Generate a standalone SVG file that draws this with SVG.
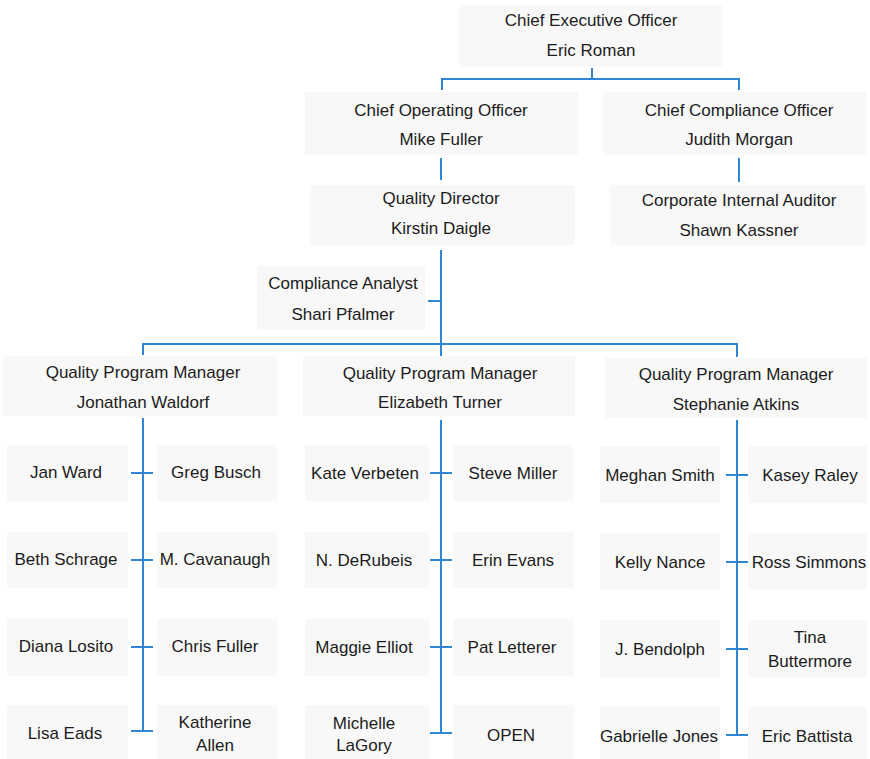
<svg xmlns="http://www.w3.org/2000/svg" width="870" height="759" viewBox="0 0 870 759">
  <style>
    .box { fill: #f8f8f8; }
    .t { font-family: "Liberation Sans", Arial, sans-serif; font-size: 17px; fill: #1c1c1c; text-anchor: middle; }
    .ln { stroke: #2f86d3; stroke-width: 2; fill: none; stroke-linecap: butt; }
  </style>
  <rect width="870" height="759" fill="#ffffff"/>

  <!-- executive level -->
  <g id="ceo"><rect class="box" x="458" y="5" width="264" height="62"/>
    <text class="t" x="591" y="26">Chief Executive Officer</text><text class="t" x="591" y="56">Eric Roman</text></g>
  <g id="coo"><rect class="box" x="305" y="92" width="273" height="63"/>
    <text class="t" x="441" y="116">Chief Operating Officer</text><text class="t" x="441" y="145">Mike Fuller</text></g>
  <g id="cco"><rect class="box" x="603" y="92" width="263" height="63"/>
    <text class="t" x="739" y="116">Chief Compliance Officer</text><text class="t" x="739" y="145">Judith Morgan</text></g>
  <g id="quality-director"><rect class="box" x="310" y="185" width="265" height="60"/>
    <text class="t" x="441" y="204">Quality Director</text><text class="t" x="441" y="234">Kirstin Daigle</text></g>
  <g id="internal-auditor"><rect class="box" x="610" y="185" width="256" height="60"/>
    <text class="t" x="739" y="206">Corporate Internal Auditor</text><text class="t" x="739" y="236">Shawn Kassner</text></g>
  <g id="compliance-analyst"><rect class="box" x="257" y="266" width="168" height="64"/>
    <text class="t" x="343" y="289">Compliance Analyst</text><text class="t" x="343" y="320">Shari Pfalmer</text></g>

  <!-- program managers -->
  <g id="qpm-waldorf"><rect class="box" x="3" y="356" width="274" height="60"/>
    <text class="t" x="143" y="378">Quality Program Manager</text><text class="t" x="143" y="408">Jonathan Waldorf</text></g>
  <g id="qpm-turner"><rect class="box" x="303" y="356" width="272" height="60"/>
    <text class="t" x="440" y="379">Quality Program Manager</text><text class="t" x="440" y="408">Elizabeth Turner</text></g>
  <g id="qpm-atkins"><rect class="box" x="605" y="358" width="262" height="60"/>
    <text class="t" x="736" y="380">Quality Program Manager</text><text class="t" x="736" y="410">Stephanie Atkins</text></g>

  <!-- staff under Waldorf -->
  <g id="jan-ward"><rect class="box" x="7" y="445" width="121" height="56"/><text class="t" x="66" y="478">Jan Ward</text></g>
  <g id="greg-busch"><rect class="box" x="157" y="445" width="120" height="56"/><text class="t" x="216" y="478">Greg Busch</text></g>
  <g id="beth-schrage"><rect class="box" x="7" y="532" width="121" height="56"/><text class="t" x="66" y="565">Beth Schrage</text></g>
  <g id="m-cavanaugh"><rect class="box" x="157" y="532" width="120" height="56"/><text class="t" x="215" y="565">M. Cavanaugh</text></g>
  <g id="diana-losito"><rect class="box" x="7" y="619" width="121" height="57"/><text class="t" x="66" y="652">Diana Losito</text></g>
  <g id="chris-fuller"><rect class="box" x="157" y="619" width="120" height="57"/><text class="t" x="215" y="652">Chris Fuller</text></g>
  <g id="lisa-eads"><rect class="box" x="7" y="705" width="121" height="54"/><text class="t" x="65" y="739">Lisa Eads</text></g>
  <g id="katherine-allen"><rect class="box" x="157" y="705" width="120" height="54"/>
    <text class="t" x="215" y="728">Katherine</text><text class="t" x="215" y="751">Allen</text></g>

  <!-- staff under Turner -->
  <g id="kate-verbeten"><rect class="box" x="305" y="445" width="124" height="56"/><text class="t" x="365" y="479">Kate Verbeten</text></g>
  <g id="steve-miller"><rect class="box" x="453" y="445" width="121" height="56"/><text class="t" x="513" y="479">Steve Miller</text></g>
  <g id="n-derubeis"><rect class="box" x="305" y="532" width="124" height="56"/><text class="t" x="364" y="566">N. DeRubeis</text></g>
  <g id="erin-evans"><rect class="box" x="453" y="532" width="121" height="56"/><text class="t" x="513" y="566">Erin Evans</text></g>
  <g id="maggie-elliot"><rect class="box" x="305" y="619" width="124" height="57"/><text class="t" x="364" y="653">Maggie Elliot</text></g>
  <g id="pat-letterer"><rect class="box" x="453" y="619" width="121" height="57"/><text class="t" x="512" y="653">Pat Letterer</text></g>
  <g id="michelle-lagory"><rect class="box" x="305" y="705" width="124" height="54"/>
    <text class="t" x="364" y="729">Michelle</text><text class="t" x="364" y="751">LaGory</text></g>
  <g id="open"><rect class="box" x="453" y="705" width="121" height="54"/><text class="t" x="511" y="741">OPEN</text></g>

  <!-- staff under Atkins -->
  <g id="meghan-smith"><rect class="box" x="600" y="446" width="120" height="57"/><text class="t" x="660" y="481">Meghan Smith</text></g>
  <g id="kasey-raley"><rect class="box" x="748" y="446" width="119" height="57"/><text class="t" x="810" y="481">Kasey Raley</text></g>
  <g id="kelly-nance"><rect class="box" x="600" y="533" width="120" height="57"/><text class="t" x="660" y="568">Kelly Nance</text></g>
  <g id="ross-simmons"><rect class="box" x="748" y="533" width="119" height="57"/><text class="t" x="809" y="568">Ross Simmons</text></g>
  <g id="j-bendolph"><rect class="box" x="600" y="620" width="120" height="58"/><text class="t" x="660" y="655">J. Bendolph</text></g>
  <g id="tina-buttermore"><rect class="box" x="748" y="620" width="119" height="58"/>
    <text class="t" x="810" y="643">Tina</text><text class="t" x="810" y="667">Buttermore</text></g>
  <g id="gabrielle-jones"><rect class="box" x="600" y="707" width="120" height="52"/><text class="t" x="659" y="742">Gabrielle Jones</text></g>
  <g id="eric-battista"><rect class="box" x="748" y="707" width="119" height="52"/><text class="t" x="807" y="742">Eric Battista</text></g>

  <!-- reporting lines -->
  <g id="connectors" class="ln">
    <path d="M592 68 V79 M442 90 V79 H739 V90"/>
    <path d="M441 158 V180 M739 158 V182"/>
    <path d="M441 250 V356 M428 301 H441 M143 355 V344 H737 V357"/>
    <path d="M143 418 V731 M131 473 H153 M131 560 H153 M131 647 H153 M131 731 H153"/>
    <path d="M441 420 V733 M430 473 H452 M430 560 H452 M430 647 H452 M430 733 H452"/>
    <path d="M737 420 V735 M726 475 H748 M726 562 H748 M726 649 H748 M726 735 H748"/>
  </g>
</svg>
